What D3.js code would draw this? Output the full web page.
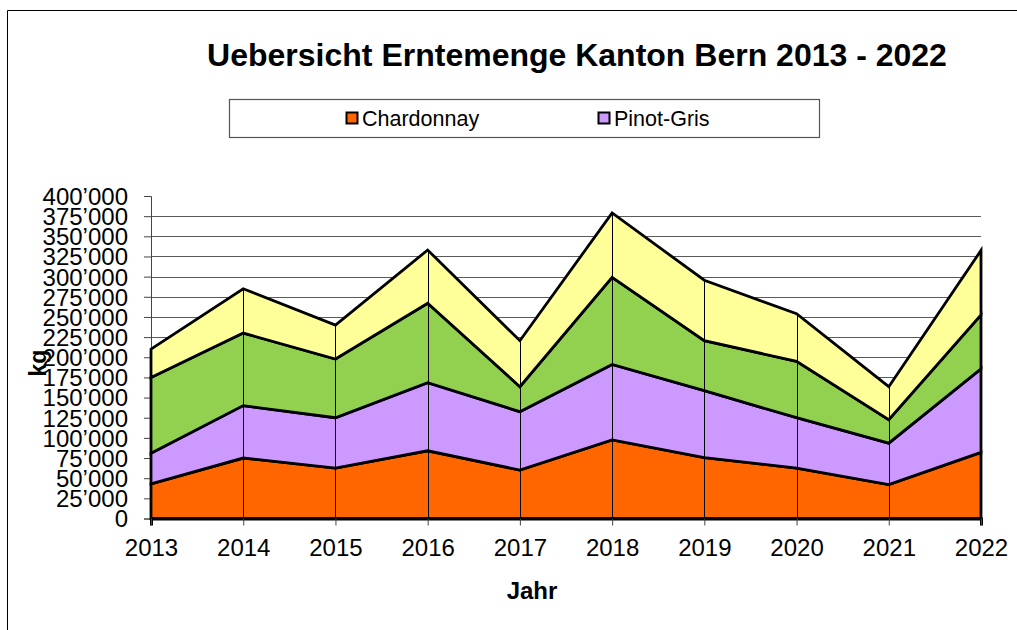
<!DOCTYPE html>
<html>
<head>
<meta charset="utf-8">
<script src="https://cdn.jsdelivr.net/npm/d3@7"></script>
<style>
  body { margin: 0; background: #fff; }
  text { font-family: "Liberation Sans", Arial, sans-serif; fill: #000; }
</style>
</head>
<body>
<script>
const years = [2013, 2014, 2015, 2016, 2017, 2018, 2019, 2020, 2021, 2022];
const chardonnay = [43000, 75000, 62500, 84000, 60000, 97500, 75500, 62500, 42000, 82000];
const pinotGris = [38000, 65000, 62500, 84500, 72500, 93500, 83000, 62500, 51500, 103500];
const serie3 = [94000, 90000, 72800, 98500, 31000, 108000, 62000, 70000, 29000, 67000];
const serie4 = [35000, 55000, 42000, 66000, 57000, 80000, 75000, 59000, 41000, 80000];

const seriesNames = ["Chardonnay", "Pinot-Gris", "Serie 3", "Serie 4"];
const seriesColors = ["#FF6600", "#CC99FF", "#92D050", "#FFFF99"];
const legendNames = ["Chardonnay", "Pinot-Gris"];
const yTicks = d3.range(0, 400001, 25000);

let WIDTH = 1017,
    HEIGHT = 630;

let margin = { top: 196, bottom: 111.5, left: 151, right: 36 };

let svg = d3.select("body").append("svg")
  .attr("width", WIDTH)
  .attr("height", HEIGHT);

// chart frame
svg.append("path")
  .attr("d", "M7.5," + HEIGHT + "V10.5H" + WIDTH)
  .attr("fill", "none")
  .attr("stroke", "#000")
  .attr("stroke-width", 1);

let fmt = d3.formatLocale({ decimal: ".", thousands: "\u2019", grouping: [3], currency: ["", ""] }).format(",");

let x = d3.scaleLinear()
  .domain([years[0], years[years.length - 1]])
  .range([margin.left, WIDTH - margin.right]);

let y = d3.scaleLinear()
  .domain([0, 400000])
  .range([HEIGHT - margin.bottom, margin.top]);

// table for the stack
let table = years.map((yr, i) => {
  return { year: yr, s0: chardonnay[i], s1: pinotGris[i], s2: serie3[i], s3: serie4[i] };
});

let stack = d3.stack().keys(["s0", "s1", "s2", "s3"]);
let layers = stack(table);

// horizontal gridlines
svg.append("g")
  .selectAll("line")
  .data(yTicks.filter(d => d > 0 && d < 400000))
  .enter().append("line")
    .attr("x1", margin.left)
    .attr("x2", WIDTH - margin.right)
    .attr("y1", d => Math.round(y(d)) + 0.5)
    .attr("y2", d => Math.round(y(d)) + 0.5)
    .attr("stroke", "#5a5a5a")
    .attr("stroke-width", 1.2);

// y axis
let yAxis = svg.append("g")
  .attr("transform", "translate(" + margin.left + ",0)")
  .call(d3.axisLeft(y).tickValues(yTicks).tickSize(7).tickPadding(16).tickFormat(fmt));

yAxis.select(".domain").attr("stroke", "#444");
yAxis.selectAll(".tick line").attr("stroke", "#444");
yAxis.selectAll("text")
  .attr("font-size", "24px")
  .attr("font-family", "Liberation Sans, Arial, sans-serif")
  .attr("dy", "0.35em")
  .attr("fill", "#000");

// stacked areas
let area = d3.area()
  .x(d => x(d.data.year))
  .y0(d => y(d[0]))
  .y1(d => y(d[1]));

svg.append("g")
  .selectAll(".layer")
  .data(layers)
  .enter().append("path")
    .attr("class", "layer")
    .attr("d", area)
    .attr("fill", (d, i) => seriesColors[i])
    .attr("stroke", "#000")
    .attr("stroke-width", 2.8)
    .attr("stroke-linejoin", "miter");

// drop lines
let topLayer = layers[layers.length - 1];
svg.append("g")
  .selectAll("line")
  .data(topLayer)
  .enter().append("line")
    .attr("x1", d => Math.round(x(d.data.year)) + 0.5)
    .attr("x2", d => Math.round(x(d.data.year)) + 0.5)
    .attr("y1", d => y(d[1]))
    .attr("y2", y(0))
    .attr("stroke", "#000")
    .attr("stroke-width", 1);

// x axis
let xAxis = svg.append("g")
  .attr("transform", "translate(0," + y(0) + ")")
  .call(d3.axisBottom(x).tickValues(years).tickSize(7).tickPadding(13).tickFormat(d3.format("d")));

xAxis.select(".domain").attr("stroke", "#000").attr("stroke-width", 3);
xAxis.selectAll(".tick line").attr("stroke", "#444");
xAxis.selectAll("text")
  .attr("font-size", "24px")
  .attr("font-family", "Liberation Sans, Arial, sans-serif")
  .attr("fill", "#000");

// titles
svg.append("text")
  .attr("x", 577)
  .attr("y", 66)
  .attr("text-anchor", "middle")
  .attr("font-size", "32px")
  .attr("font-weight", "bold")
  .text("Uebersicht Erntemenge Kanton Bern 2013 - 2022");

svg.append("text")
  .attr("x", 532)
  .attr("y", 599)
  .attr("text-anchor", "middle")
  .attr("font-size", "24px")
  .attr("font-weight", "bold")
  .text("Jahr");

svg.append("text")
  .attr("transform", "translate(46,363) rotate(-90)")
  .attr("text-anchor", "middle")
  .attr("font-size", "23px")
  .attr("font-weight", "bold")
  .text("kg");

// legend
let legend = svg.append("g");
legend.append("rect")
  .attr("x", 229.5)
  .attr("y", 99.5)
  .attr("width", 590)
  .attr("height", 38)
  .attr("fill", "#fff")
  .attr("stroke", "#555")
  .attr("stroke-width", 1.2);

let legendX = [346, 598];
let items = legend.selectAll(".item")
  .data(legendNames)
  .enter().append("g")
    .attr("class", "item")
    .attr("transform", (d, i) => "translate(" + legendX[i] + ",112)");

items.append("rect")
  .attr("x", 0.5)
  .attr("y", 0.5)
  .attr("width", 11)
  .attr("height", 11)
  .attr("fill", (d, i) => seriesColors[i])
  .attr("stroke", "#000")
  .attr("stroke-width", 2);

items.append("text")
  .attr("x", 16)
  .attr("y", 6)
  .attr("dy", "0.36em")
  .attr("font-size", "21.5px")
  .text(d => d);
</script>
</body>
</html>
